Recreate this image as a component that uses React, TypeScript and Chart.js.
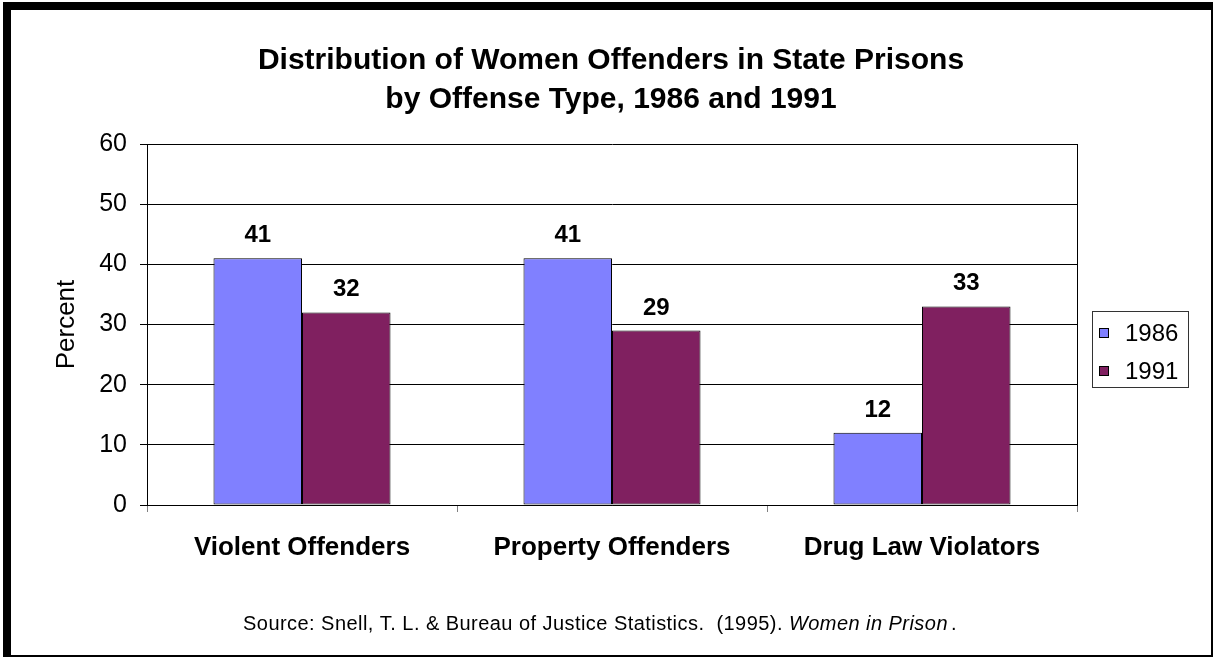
import React, { useEffect, useRef } from "react";
import { Chart, registerables } from "chart.js";

Chart.register(...registerables);

const categories = ["Violent Offenders", "Property Offenders", "Drug Law Violators"];
const series1986 = [41, 41, 12];
const series1991 = [32, 29, 33];
const seriesLabels = ["1986", "1991"];
const seriesColors = ["#8080FF", "#802060"];
const yTicks = [0, 10, 20, 30, 40, 50, 60];
const titleLines = ["Distribution of Women Offenders in State Prisons", "by Offense Type, 1986 and 1991"];
const sourcePlain = "Source: Snell, T. L. & Bureau of Justice Statistics.  (1995). ";
const sourceItalic = "Women in Prison";
const sourceEnd = ".";
const yTitle = "Percent";

const FONT = "'Liberation Sans', Arial, sans-serif";

const W = 1213;
const H = 657;

const decorPlugin = {
  id: "decor",
  beforeDraw(chart: any) {
    const ctx = chart.ctx;
    ctx.save();
    ctx.fillStyle = "#ffffff";
    ctx.fillRect(0, 0, chart.width, chart.height);
    ctx.restore();
  },
  afterDatasetsDraw(chart: any) {
    const ctx = chart.ctx;
    ctx.save();
    ctx.fillStyle = "#000";
    ctx.font = `bold 24px ${FONT}`;
    ctx.textAlign = "center";
    ctx.textBaseline = "alphabetic";
    chart.data.datasets.forEach((ds: any, i: number) => {
      const meta = chart.getDatasetMeta(i);
      meta.data.forEach((el: any, j: number) => {
        ctx.fillText(String(ds.data[j]), el.x, el.y - 16);
      });
    });
    ctx.restore();
  },
  afterDraw(chart: any) {
    const ctx = chart.ctx;
    const a = chart.chartArea;
    ctx.save();
    // plot area right border
    ctx.strokeStyle = "#000";
    ctx.lineWidth = 1;
    ctx.beginPath();
    ctx.moveTo(Math.round(a.right) + 0.5, a.top);
    ctx.lineTo(Math.round(a.right) + 0.5, a.bottom);
    ctx.stroke();

    // title
    ctx.fillStyle = "#000";
    ctx.font = `bold 30px ${FONT}`;
    ctx.textAlign = "center";
    ctx.textBaseline = "alphabetic";
    ctx.fillText(titleLines[0], 611, 69);
    ctx.fillText(titleLines[1], 611, 108);

    // legend
    ctx.strokeStyle = "#333";
    ctx.lineWidth = 1;
    ctx.strokeRect(1092.5, 311.5, 96, 76);
    const rows = [333, 371];
    ctx.font = `24px ${FONT}`;
    ctx.textAlign = "left";
    seriesLabels.forEach((lab, i) => {
      const cy = rows[i];
      ctx.fillStyle = seriesColors[i];
      ctx.fillRect(1099, cy - 5, 10, 10);
      ctx.strokeStyle = "#000";
      ctx.strokeRect(1099.5, cy - 4.5, 9, 9);
      ctx.fillStyle = "#000";
      ctx.fillText(lab, 1125, cy + 8);
    });

    // source
    const fs = 20;
    (ctx as any).letterSpacing = "0.45px";
    ctx.font = `${fs}px ${FONT}`;
    const w1 = ctx.measureText(sourcePlain).width;
    ctx.font = `italic ${fs}px ${FONT}`;
    const w2 = ctx.measureText(sourceItalic).width;
    ctx.font = `${fs}px ${FONT}`;
    const w3 = ctx.measureText(sourceEnd).width;
    const total = w1 + w2 + 3 + w3;
    let x = 600 - total / 2;
    const by = 630;
    ctx.fillText(sourcePlain, x, by);
    x += w1;
    ctx.font = `italic ${fs}px ${FONT}`;
    ctx.fillText(sourceItalic, x, by);
    x += w2 + 3;
    ctx.font = `${fs}px ${FONT}`;
    ctx.fillText(sourceEnd, x, by);
    (ctx as any).letterSpacing = "0px";

    // frame
    ctx.fillStyle = "#000";
    ctx.fillRect(3, 2, 8, 655);
    ctx.fillRect(3, 2, 1210, 8);
    ctx.fillRect(1211, 2, 2, 655);
    ctx.fillRect(3, 655, 1210, 2);
    ctx.restore();
  },
};

export default function App() {
  const ref = useRef<HTMLCanvasElement | null>(null);

  useEffect(() => {
    if (!ref.current) return;
    const chart = new Chart(ref.current, {
      type: "bar",
      data: {
        labels: categories,
        datasets: [
          {
            label: seriesLabels[0],
            data: series1986,
            backgroundColor: seriesColors[0],
            borderColor: "#000",
            borderWidth: 1,
            borderSkipped: false,
            categoryPercentage: 0.571,
            barPercentage: 1,
          },
          {
            label: seriesLabels[1],
            data: series1991,
            backgroundColor: seriesColors[1],
            borderColor: "#000",
            borderWidth: 1,
            borderSkipped: false,
            categoryPercentage: 0.571,
            barPercentage: 1,
          },
        ],
      },
      options: {
        animation: false,
        responsive: false,
        devicePixelRatio: 1,
        layout: { padding: { top: 144, right: 136, bottom: 0, left: 0 } },
        plugins: {
          legend: { display: false },
          title: { display: false },
          tooltip: { enabled: false },
        },
        scales: {
          x: {
            type: "category",
            grid: {
              offset: true,
              drawOnChartArea: false,
              drawTicks: true,
              tickLength: 7,
              color: "#808080",
            },
            border: { display: true, color: "#000", width: 1 },
            ticks: {
              color: "#000",
              font: { family: FONT, size: 26, weight: "bold" },
              padding: 20,
              maxRotation: 0,
              autoSkip: false,
            },
            afterFit(scale: any) {
              scale.height = 152;
            },
          },
          y: {
            min: 0,
            max: 60,
            afterBuildTicks(scale: any) {
              scale.ticks = yTicks.map((v) => ({ value: v }));
            },
            grid: { color: "#000", lineWidth: 1, tickLength: 7 },
            border: { display: true, color: "#000", width: 1 },
            ticks: {
              color: "#000",
              font: { family: FONT, size: 25 },
              padding: 13,
            },
            title: {
              display: true,
              text: yTitle,
              color: "#000",
              font: { family: FONT, size: 26 },
              padding: { top: 51, bottom: 0 },
            },
            afterFit(scale: any) {
              scale.width = 147;
            },
          },
        },
      },
      plugins: [decorPlugin],
    } as any);
    return () => chart.destroy();
  }, []);

  return (
    <div style={{ position: "fixed", left: 0, top: 0, width: W, height: H, background: "#fff" }}>
      <canvas ref={ref} width={W} height={H} style={{ display: "block", width: W, height: H }} />
    </div>
  );
}
